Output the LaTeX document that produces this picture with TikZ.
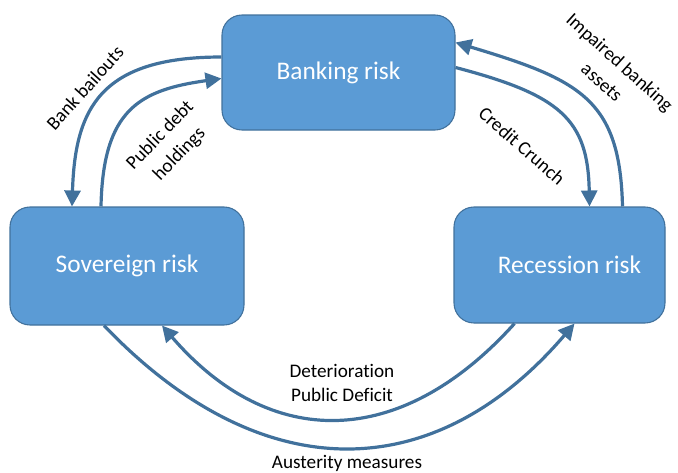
\documentclass[tikz,border=0pt]{standalone}
\usepackage{fontspec}
\setmainfont{Carlito}[Ligatures=NoCommon]
\usepackage{tikz}
\usetikzlibrary{arrows.meta, calc}

\definecolor{boxfill}{HTML}{5B9BD5}
\definecolor{boxline}{HTML}{41719C}

\begin{document}
\begin{tikzpicture}[x=0.75pt, y=-0.75pt,
    riskbox/.style={draw=boxline, fill=boxfill, rounded corners=15pt, inner sep=0pt,
      text=white, font=\fontsize{19}{23}\selectfont, line width=0.8pt},
    link/.style={draw=boxline, line width=2.4pt, -{Triangle[length=12pt, width=12pt]}},
    lbl/.style={font=\fontsize{14.4}{18}\selectfont, align=center, inner sep=0pt},
    tilted/.style={lbl, font=\fontsize{14.4}{20}\selectfont}]
        \useasboundingbox (0,0) rectangle (678,472);

        \node [riskbox, minimum width=174.75pt, minimum height=86.25pt] (bank) at (338.5, 72.5) {Banking risk};
        \node [riskbox, minimum width=175.5pt, minimum height=88.5pt] (sov) at (127, 266) {Sovereign risk};
        \node [riskbox, minimum width=158.25pt, minimum height=87pt] (rec) at (559.5, 265) {\hspace*{15pt}Recession risk};

        % banking <-> sovereign
        \draw [link] ($(bank.west)+(0,-15.5)$) .. controls +(-122,0) and +(3,-97) .. ($(sov.north)+(-55,0)$);
        \draw [link] ($(sov.north)+(-26,0)$) .. controls +(2,-97) and +(-82,11.5) .. ($(bank.west)+(0,6)$);

        % banking <-> recession
        \draw [link] ($(bank.east)+(0,-5)$) .. controls +(105,27.5) and +(-1.5,-87) .. ($(rec.north)+(30,0)$);
        \draw [link] ($(rec.north)+(63,0)$) .. controls +(-2.5,-107) and +(125,37.5) .. ($(bank.east)+(0,-30)$);

        % recession <-> sovereign
        \draw [link] ($(rec.south)+(-45,0)$) .. controls +(-114.5,127) and +(108,125) .. ($(sov.south)+(35,0)$);
        \draw [link] ($(sov.south)+(-23,0)$) .. controls +(156,163) and +(-141.5,165) .. ($(rec.south)+(15,0)$);

        \node [lbl, rotate=48] (bailout) at (85, 88) {Bank bailouts};
        \node [tilted, rotate=46] (holding) at (170, 145) {Public debt\\holdings};
        \node [lbl, rotate=-41] (crunch) at (522, 146) {Credit Crunch};
        \node [tilted, rotate=-42] (impair) at (611, 72) {Impaired banking\\assets};
        \node [lbl] (deficit) at (342, 383) {Deterioration\\Public Deficit};
        \node [lbl, anchor=base] (austerity) at (347, 468.5) {Austerity measures};
      \end{tikzpicture}
\end{document}
